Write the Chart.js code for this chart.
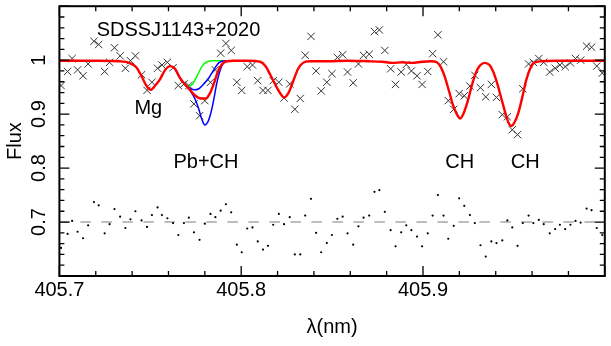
<!DOCTYPE html>
<html><head><meta charset="utf-8">
<script src="https://cdn.jsdelivr.net/npm/chart.js@4.4.1/dist/chart.umd.min.js"></script>
<style>html,body{margin:0;padding:0;background:#fff}</style>
</head><body>
<canvas id="c" width="611" height="346"></canvas>
<script>
// ---- data ----
const wavelengths = [
405.7009,405.7045,405.7070,405.7100,405.7130,405.7158,405.7190,405.7216,405.7249,405.7276,
405.7303,405.7334,405.7363,405.7391,405.7418,405.7452,405.7482,405.7509,405.7540,405.7564,
405.7594,405.7625,405.7654,405.7685,405.7712,405.7740,405.7771,405.7800,405.7831,405.7858,
405.7887,405.7916,405.7945,405.7976,405.8003,405.8033,405.8062,405.8091,405.8120,405.8147,
405.8176,405.8207,405.8236,405.8267,405.8295,405.8325,405.8352,405.8384,405.8412,405.8440,
405.8471,405.8499,405.8529,405.8558,405.8585,405.8616,405.8645,405.8673,405.8704,405.8733,
405.8760,405.8790,405.8822,405.8849,405.8880,405.8908,405.8936,405.8967,405.8995,405.9026,
405.9053,405.9082,405.9113,405.9139,405.9169,405.9199,405.9227,405.9258,405.9285,405.9316,
405.9345,405.9376,405.9404,405.9436,405.9464,405.9491,405.9520,405.9549,405.9581,405.9607,
405.9637,405.9664,405.9697,405.9727,405.9753,405.9782,405.9811,405.9839,405.9867,405.9900,
405.9927,405.9956,405.9986];
const observedFlux = [
0.953,0.979,1.003,0.982,0.971,0.993,1.035,1.029,0.979,0.996,
1.023,1.008,0.985,0.999,1.008,0.973,0.944,0.959,0.985,0.991,
0.996,0.986,0.953,0.956,0.953,0.919,0.897,0.925,0.959,0.982,
1.013,1.031,1.018,0.959,0.944,0.988,0.991,0.962,0.944,0.944,
0.962,0.959,0.930,0.956,0.909,0.929,1.009,1.044,0.980,0.943,
0.959,0.975,1.005,1.010,0.978,0.958,0.993,1.009,1.011,1.053,
1.056,1.018,0.984,0.955,0.978,0.992,0.980,0.971,0.955,0.979,
1.012,1.047,0.997,0.925,0.909,0.938,0.934,0.952,0.972,0.949,
0.932,0.955,0.931,0.899,0.895,0.871,0.862,0.947,0.993,0.996,
1.003,0.996,0.978,0.985,0.991,0.988,0.995,1.003,1.000,1.026,
1.024,0.989,0.976];
const residualFlux = [
0.652,0.678,0.702,0.682,0.670,0.694,0.737,0.731,0.679,0.696,
0.724,0.710,0.689,0.705,0.720,0.703,0.691,0.713,0.727,0.713,
0.707,0.698,0.676,0.698,0.708,0.681,0.667,0.697,0.715,0.709,
0.721,0.733,0.718,0.658,0.644,0.688,0.690,0.664,0.649,0.656,
0.695,0.715,0.696,0.709,0.640,0.640,0.712,0.743,0.680,0.644,
0.661,0.676,0.706,0.710,0.679,0.658,0.692,0.708,0.712,0.756,
0.759,0.719,0.685,0.655,0.681,0.694,0.685,0.673,0.655,0.679,
0.712,0.750,0.712,0.669,0.693,0.744,0.730,0.713,0.698,0.657,
0.636,0.664,0.661,0.666,0.703,0.690,0.656,0.698,0.712,0.698,
0.704,0.696,0.679,0.687,0.695,0.687,0.695,0.702,0.699,0.725,
0.722,0.689,0.676];

const bestFitWave = [405.700,405.722,405.733,405.7385,405.7423,405.7451,405.7478,405.7502,405.7527,405.7554,
405.7582,405.7609,405.7636,405.7663,405.7691,405.7718,405.7745,405.7778,405.7805,405.7827,
405.7849,405.7871,405.7893,405.7920,405.7958,405.8040,405.8105,405.8133,405.8160,405.8187,
405.8212,405.8236,405.8261,405.8285,405.8313,405.8340,405.8378,405.8476,405.8585,405.8695,
405.8776,405.8831,405.8885,405.8940,405.8995,405.9044,405.9076,405.9098,405.9120,405.9142,
405.9164,405.9186,405.9205,405.9224,405.9246,405.9267,405.9289,405.9311,405.9338,405.9366,
405.9387,405.9409,405.9431,405.9453,405.9469,405.9486,405.9502,405.9524,405.9546,405.9567,
405.9589,405.9611,405.9649,405.9731,406.000];
const bestFitFlux = [0.999,0.999,0.998,0.995,0.987,0.971,0.953,0.945,0.953,0.965,
0.982,0.989,0.984,0.967,0.955,0.945,0.935,0.929,0.929,0.938,
0.956,0.978,0.992,0.998,0.999,0.999,0.997,0.989,0.973,0.955,
0.940,0.931,0.940,0.960,0.984,0.995,0.998,0.998,0.999,0.998,
0.997,0.995,0.996,0.995,0.997,0.998,0.996,0.987,0.969,0.944,
0.918,0.900,0.892,0.902,0.924,0.951,0.975,0.989,0.995,0.991,
0.978,0.956,0.929,0.902,0.885,0.878,0.884,0.902,0.931,0.962,
0.984,0.995,0.998,0.999,0.999];

const noPbWave = [405.7636,405.7663,405.7691,405.7710,405.7730,405.7758,405.7785,405.7812,405.7849,405.7903];
const noPbFlux = [0.984,0.967,0.955,0.951,0.955,0.971,0.989,0.997,0.999,0.999];
const lowPbWave = [405.7636,405.7663,405.7691,405.7712,405.7740,405.7767,405.7794,405.7822,405.7849,405.7876,405.7913,405.7958];
const lowPbFlux = [0.984,0.967,0.955,0.949,0.945,0.947,0.956,0.967,0.982,0.995,0.999,0.999];
const highPbWave = [405.7636,405.7663,405.7691,405.7718,405.7745,405.7767,405.7783,405.7800,405.7816,405.7833,405.7849,405.7865,405.7885,405.7903,405.7925,405.7958];
const highPbFlux = [0.984,0.967,0.955,0.944,0.929,0.909,0.891,0.880,0.885,0.902,0.927,0.956,0.982,0.995,0.998,0.999];

const residualZero = 0.7;
const xTickValues = [405.7, 405.8, 405.9];
const yTickValues = [0.7, 0.8, 0.9, 1];
const labelTexts = ['SDSSJ1143+2020', 'Mg', 'Pb+CH', 'CH', 'CH'];
const labelWave = [405.7655, 405.7489, 405.7806, 405.9202, 405.9562];
const labelFlux = [1.0455, 0.900, 0.800, 0.800, 0.800];

// ---- build ----
const pts = (xs, ys) => xs.map((x, i) => ({x, y: ys[i]}));
const FONT = '"Liberation Sans", Arial, sans-serif';
Chart.defaults.font.family = FONT;
Chart.defaults.font.size = 20;
Chart.defaults.color = '#000';

const frame = {
  id: 'frame',
  afterDatasetsDraw(chart) {
    const {ctx, chartArea: a, scales: {x, y}} = chart;
    ctx.save();
    ctx.strokeStyle = '#000';
    ctx.lineWidth = 1.3;
    ctx.beginPath();
    for (let i = 0; i <= 15; i++) {
      const px = x.getPixelForValue(405.7 + i * 0.02);
      const len = i % 5 === 0 ? 10 : 5;
      ctx.moveTo(px, a.bottom); ctx.lineTo(px, a.bottom - len);
      ctx.moveTo(px, a.top); ctx.lineTo(px, a.top + len);
    }
    for (let i = 0; i <= 25; i++) {
      const py = y.getPixelForValue(0.6 + i * 0.02);
      const len = i % 5 === 0 ? 10 : 5;
      ctx.moveTo(a.left, py); ctx.lineTo(a.left + len, py);
      ctx.moveTo(a.right, py); ctx.lineTo(a.right - len, py);
    }
    ctx.stroke();
    ctx.lineWidth = 2;
    ctx.strokeRect(a.left, a.top, a.right - a.left, a.bottom - a.top);
    ctx.fillStyle = '#000';
    ctx.font = '20px ' + FONT;
    ctx.textAlign = 'center';
    ctx.textBaseline = 'alphabetic';
    labelTexts.forEach((t, i) => {
      ctx.fillText(t, x.getPixelForValue(labelWave[i]), y.getPixelForValue(labelFlux[i]));
    });
    ctx.restore();
  }
};

new Chart(document.getElementById('c'), {
  type: 'scatter',
  data: {
    datasets: [
      {label: 'best fit', data: pts(bestFitWave, bestFitFlux), showLine: true, borderColor: '#ff0000', borderWidth: 2.4, pointRadius: 0, cubicInterpolationMode: 'monotone', order: 0},
      {label: 'high Pb', data: pts(highPbWave, highPbFlux), showLine: true, borderColor: '#0000ff', borderWidth: 1.5, pointRadius: 0, cubicInterpolationMode: 'monotone', order: 1},
      {label: 'low Pb', data: pts(lowPbWave, lowPbFlux), showLine: true, borderColor: '#0000ff', borderWidth: 1.5, pointRadius: 0, cubicInterpolationMode: 'monotone', order: 2},
      {label: 'no Pb', data: pts(noPbWave, noPbFlux), showLine: true, borderColor: '#00ff00', borderWidth: 1.5, pointRadius: 0, cubicInterpolationMode: 'monotone', order: 3},
      {label: 'observed', data: pts(wavelengths, observedFlux), pointStyle: 'crossRot', pointRadius: 5.2, borderColor: '#333', borderWidth: 1, backgroundColor: '#333', order: 4},
      {label: 'residual', data: pts(wavelengths, residualFlux), pointStyle: 'circle', pointRadius: 1.1, borderWidth: 0, backgroundColor: '#000', order: 5},
      {label: 'zero', data: [{x: 405.7, y: residualZero}, {x: 406.0, y: residualZero}], showLine: true, borderColor: '#a8a8a8', borderWidth: 1.5, borderDash: [10.5, 10.5], pointRadius: 0, order: 6}
    ]
  },
  options: {
    responsive: false,
    devicePixelRatio: 1,
    animation: false,
    layout: {padding: {top: 1, right: 1.7, left: 0, bottom: 0}},
    plugins: {legend: {display: false}, tooltip: {enabled: false}},
    scales: {
      x: {
        type: 'linear', min: 405.7, max: 406.0,
        afterBuildTicks: s => { s.ticks = xTickValues.map(v => ({value: v})); },
        afterFit: s => { s.height = 70; s.paddingLeft = 0; s.paddingRight = 0; s.paddingTop = 0; s.paddingBottom = 0; },
        grid: {display: false, drawTicks: false},
        border: {display: false},
        ticks: {padding: 2, maxRotation: 0, callback: v => v.toFixed(1)},
        title: {display: true, text: 'λ(nm)', padding: {top: 0, bottom: 7}}
      },
      y: {
        type: 'linear', min: 0.6, max: 1.1,
        afterBuildTicks: s => { s.ticks = yTickValues.map(v => ({value: v})); },
        afterFit: s => { s.width = 59.4; s.paddingTop = 0; s.paddingBottom = 0; s.paddingLeft = 0; s.paddingRight = 0; },
        grid: {display: false, drawTicks: false},
        border: {display: false},
        ticks: {padding: 6.5, minRotation: 90, maxRotation: 90, crossAlign: 'center', callback: v => (v === 1 ? '1' : v.toFixed(1))},
        title: {display: true, text: 'Flux', padding: {top: 3, bottom: 0}}
      }
    }
  },
  plugins: [frame]
});
</script>
</body></html>
